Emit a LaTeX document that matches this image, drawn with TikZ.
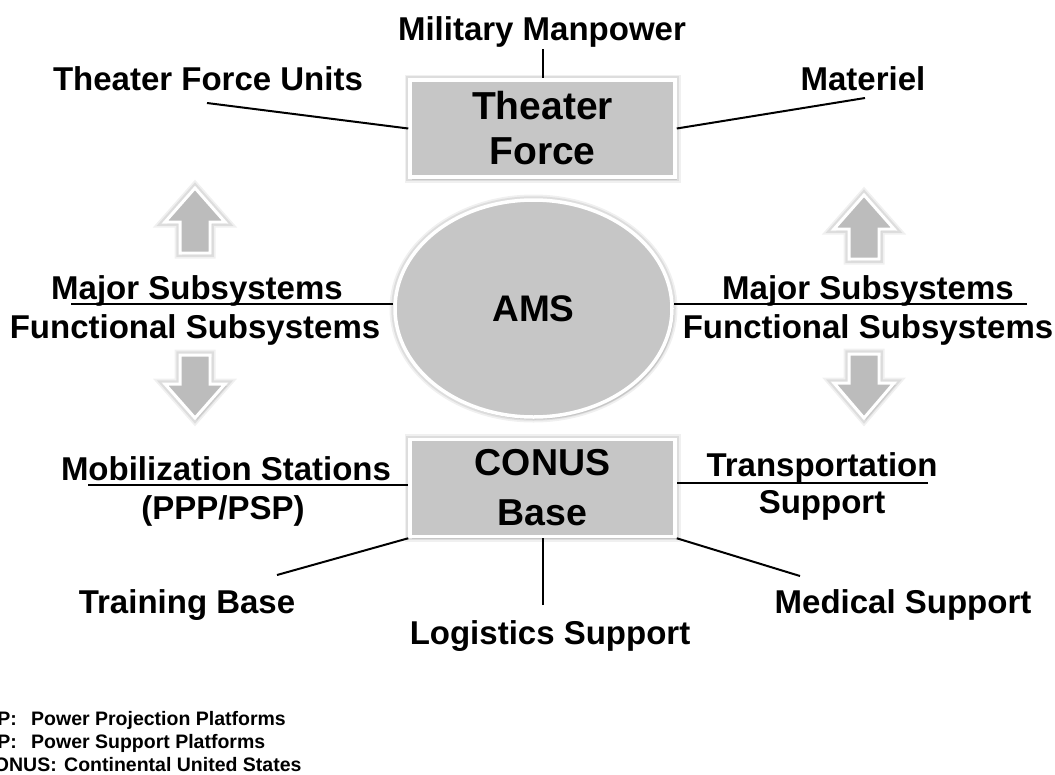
\documentclass[tikz,border=0pt]{standalone}
\usepackage{fontspec}
\setmainfont{Liberation Sans}
\usetikzlibrary{shapes.geometric, shadows}

\definecolor{boxgray}{RGB}{198,198,198}
\definecolor{arrowgray}{RGB}{188,188,188}

\begin{document}
\begin{tikzpicture}[x=1pt, y=-1pt,
  lbl/.style={font=\fontsize{33}{36}\selectfont\bfseries, inner sep=0pt, anchor=base},
  keyabbr/.style={font=\fontsize{19.5}{22}\selectfont\bfseries, inner sep=0pt, anchor=base east},
  keytext/.style={font=\fontsize{19.5}{22}\selectfont\bfseries, inner sep=0pt, anchor=base west},
  halo/.style={preaction={draw=black, draw opacity=0.06, line width=11pt},
    preaction={draw=black, draw opacity=0.08, line width=7.5pt}},
  hub/.style={rectangle, draw=white, line width=3.5pt, fill=boxgray,
    minimum width=265pt, minimum height=97pt, align=center, halo,
    drop shadow={opacity=0.25, shadow xshift=2pt, shadow yshift=-2.5pt}},
  link/.style={line width=2pt, black},
  flow/.style={draw=white, line width=3pt, fill=arrowgray, line join=miter, halo,
    drop shadow={opacity=0.2, shadow xshift=2pt, shadow yshift=-2pt}}]
\useasboundingbox (0,0) rectangle (1055,774);

% centre
\node[hub, font=\fontsize{39}{45}\selectfont\bfseries] (TF) at (542.5,128.5) {Theater\\Force};
\node[hub, font=\fontsize{37.5}{50}\selectfont\bfseries] (CB) at (542.5,488) {CONUS\\Base};
\node[ellipse, draw=white, line width=3.5pt, fill=boxgray, minimum width=277pt, minimum height=217pt, halo,
  drop shadow={opacity=0.25, shadow xshift=2pt, shadow yshift=-2.5pt},
  font=\fontsize{37}{40}\selectfont\bfseries] (AMS) at (533.5,308.5) {AMS};

% labels
\node[lbl] (MM)  at (542,40)  {Military Manpower};
\node[lbl] (TFU) at (208,90)  {Theater Force Units};
\node[lbl] (MAT) at (863,90)  {Materiel};
\node[lbl] (MJL) at (197,299) {Major Subsystems};
\node[lbl] (FNL) at (195,338) {Functional Subsystems};
\node[lbl] (MJR) at (868,299) {Major Subsystems};
\node[lbl] (FNR) at (868,338) {Functional Subsystems};
\node[lbl] (MOB) at (226,480) {Mobilization Stations};
\node[lbl] (PPP) at (223,519) {(PPP/PSP)};
\node[lbl] (TRN) at (822,476) {Transportation};
\node[lbl] (SUP) at (822,513) {Support};
\node[lbl] (TRB) at (187,613) {Training Base};
\node[lbl] (LOG) at (550,644) {Logistics Support};
\node[lbl] (MED) at (903,613) {Medical Support};

% connectors
\coordinate (MMe)  at (542.5,49);
\coordinate (TFUe) at (207,103);
\coordinate (MATe) at (865,98);
\coordinate (MJLe) at (71,304);
\coordinate (MJRe) at (1027,304);
\coordinate (MOBe) at (88,485);
\coordinate (TRNe) at (928,483);
\coordinate (TRBe) at (277,575);
\coordinate (LOGe) at (542.5,605);
\coordinate (MEDe) at (800,576);
\draw[link] (MMe) -- (TF.north);
\draw[link] (TFUe) -- (TF.west);
\draw[link] (MATe) -- (TF.east);
\draw[link] (MJLe) -- (MJLe -| AMS.west);
\draw[link] (MJRe) -- (MJRe -| AMS.east);
\draw[link] (MOBe) -- (MOBe -| CB.west);
\draw[link] (TRNe) -- (TRNe -| CB.east);
\draw[link] (TRBe) -- (CB.south west);
\draw[link] (LOGe) -- (CB.south);
\draw[link] (MEDe) -- (CB.south east);

% block arrows
\foreach \cx/\tp/\hb/\bt in {195/188/222/253, 864/195/229/259, 195/418/384/355, 864/418/383/354}
  \draw[flow] (\cx,\tp) -- (\cx+30,\hb) -- (\cx+15,\hb) -- (\cx+15,\bt)
    -- (\cx-15,\bt) -- (\cx-15,\hb) -- (\cx-30,\hb) -- cycle;

% key
\node[keyabbr] (K1a) at (17,725) {PPP:};
\node[keytext] (K1b) at (31,725) {Power Projection Platforms};
\node[keyabbr] (K2a) at (17,748) {PSP:};
\node[keytext] (K2b) at (31,748) {Power Support Platforms};
\node[keyabbr] (K3a) at (57,771) {CONUS:};
\node[keytext] (K3b) at (64,771) {Continental United States};
\end{tikzpicture}
\end{document}
